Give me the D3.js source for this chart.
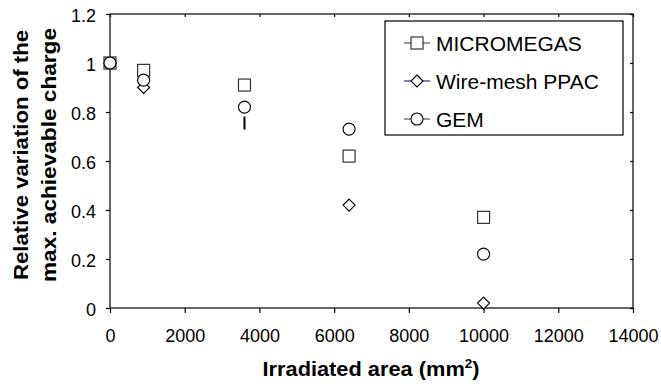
<!DOCTYPE html>
<html>
<head>
<meta charset="utf-8">
<script src="https://cdn.jsdelivr.net/npm/d3@7"></script>
<style>
  body { margin: 0; background: #fff; }
  text { font-family: Arial, "Liberation Sans", sans-serif; }
</style>
</head>
<body>
<div id="chart"></div>
<script>
// data
const area = [0, 900, 3600, 6400, 10000];
const micromegas = [1.0, 0.97, 0.91, 0.62, 0.37];
const ppac = [1.0, 0.90, 0.755, 0.42, 0.02];
const gem = [1.0, 0.93, 0.82, 0.73, 0.22];
const ppacCollapsed = [3600]; // this marker only shows as a short bar
const xTicks = [0, 2000, 4000, 6000, 8000, 10000, 12000, 14000];
const yTicks = [0, 0.2, 0.4, 0.6, 0.8, 1, 1.2];
const seriesNames = ["MICROMEGAS", "Wire-mesh PPAC", "GEM"];

const W = 661, H = 387;
const m = {left: 110, right: 28, top: 14, bottom: 79};

let svg = d3.select("#chart").append("svg")
  .attr("width", W).attr("height", H);

let x = d3.scaleLinear().domain([0, 14000]).range([m.left, W - m.right]);
let y = d3.scaleLinear().domain([0, 1.2]).range([H - m.bottom, m.top]);

// frame
svg.append("rect")
  .attr("x", x(0)).attr("y", y(1.2))
  .attr("width", x(14000) - x(0)).attr("height", y(0) - y(1.2))
  .attr("fill", "none").attr("stroke", "#000").attr("stroke-width", 1.2);

// bottom axis, outward ticks
let xAx = svg.append("g")
  .attr("transform", `translate(0,${y(0)})`)
  .call(d3.axisBottom(x).tickValues(xTicks).tickSize(5).tickSizeOuter(0).tickPadding(16).tickFormat(d3.format("d")));
// left axis
let yAx = svg.append("g")
  .attr("transform", `translate(${x(0)},1.5)`)
  .call(d3.axisLeft(y).tickValues(yTicks).tickSize(4).tickSizeOuter(0).tickPadding(10).tickFormat(d => d === 0 || d === 1 ? d : d3.format(".1f")(d)));
yAx.selectAll(".tick line").attr("transform", "translate(0,-1.5)");
// top/right inward ticks
svg.append("g")
  .attr("transform", `translate(0,${y(1.2)})`)
  .call(d3.axisBottom(x).tickValues(xTicks).tickSize(3).tickSizeOuter(0).tickFormat(""));
svg.append("g")
  .attr("transform", `translate(${x(14000)},0)`)
  .call(d3.axisLeft(y).tickValues(yTicks).tickSize(3).tickSizeOuter(0).tickFormat(""));

svg.selectAll(".domain").remove();
svg.selectAll(".tick line").attr("stroke", "#000").attr("stroke-width", 1.2);
svg.selectAll(".tick text").attr("font-size", 18).attr("fill", "#000")
  .attr("font-family", "Arial, 'Liberation Sans', sans-serif");

// axis titles
let xt = svg.append("text")
  .attr("x", 371).attr("y", 376)
  .attr("text-anchor", "middle")
  .attr("font-size", 19.5).attr("font-weight", "bold")
  .attr("textLength", 217).attr("lengthAdjust", "spacingAndGlyphs");
xt.append("tspan").text("Irradiated area (mm");
xt.append("tspan").attr("font-size", 12).attr("dy", -8).text("2");
xt.append("tspan").attr("dy", 8).text(")");

[["Relative variation of the", 28, 250], ["max. achievable charge", 56, 254]].forEach(([t, px, len]) => {
  svg.append("text")
    .attr("transform", `translate(${px},155) rotate(-90)`)
    .attr("text-anchor", "middle")
    .attr("font-size", 20).attr("font-weight", "bold")
    .attr("textLength", len).attr("lengthAdjust", "spacingAndGlyphs")
    .text(t);
});

// markers
const sq = 12, dm = 6, cr = 6;
function drawSquares(g, vals) {
  g.selectAll("rect.sq").data(vals.map((v, i) => [area[i], v])).enter()
    .append("rect").attr("class", "sq")
    .attr("x", d => x(d[0]) - sq / 2).attr("y", d => y(d[1]) - sq / 2)
    .attr("width", sq).attr("height", sq)
    .attr("fill", "#fff").attr("stroke", "#333").attr("stroke-width", 1.2);
}
function diamondPath(cx, cy) {
  return `M${cx},${cy - dm}L${cx + dm},${cy}L${cx},${cy + dm}L${cx - dm},${cy}Z`;
}

let marks = svg.append("g");
drawSquares(marks, micromegas);

let ppacPts = ppac.map((v, i) => [area[i], v]);
marks.selectAll("path.dm").data(ppacPts.filter(d => !ppacCollapsed.includes(d[0]))).enter()
  .append("path").attr("class", "dm")
  .attr("d", d => diamondPath(x(d[0]), y(d[1])))
  .attr("fill", "#fff").attr("stroke", "#000").attr("stroke-width", 1.1);
marks.selectAll("line.dm").data(ppacPts.filter(d => ppacCollapsed.includes(d[0]))).enter()
  .append("line").attr("class", "dm")
  .attr("x1", d => x(d[0])).attr("x2", d => x(d[0]))
  .attr("y1", d => y(d[1]) - 6.5).attr("y2", d => y(d[1]) + 6.5)
  .attr("stroke", "#000").attr("stroke-width", 2);

marks.selectAll("circle").data(gem.map((v, i) => [area[i], v])).enter()
  .append("circle")
  .attr("cx", d => x(d[0])).attr("cy", d => y(d[1])).attr("r", cr)
  .attr("fill", "#fff").attr("stroke", "#000").attr("stroke-width", 1.1);

// legend
let lg = svg.append("g");
lg.append("rect").attr("x", 385).attr("y", 21).attr("width", 238).attr("height", 114)
  .attr("fill", "#fff").attr("stroke", "#000").attr("stroke-width", 1.2);
const lineCol = ["#333", "#000080", "#333"];
seriesNames.forEach((name, i) => {
  let cy = 43 + i * 38;
  lg.append("line").attr("x1", 404).attr("x2", 430).attr("y1", cy).attr("y2", cy)
    .attr("stroke", lineCol[i]).attr("stroke-width", 1);
  if (i === 0) {
    lg.append("rect").attr("x", 417 - sq / 2).attr("y", cy - sq / 2).attr("width", sq).attr("height", sq)
      .attr("fill", "#fff").attr("stroke", "#333").attr("stroke-width", 1.2);
  } else if (i === 1) {
    lg.append("path").attr("d", diamondPath(417, cy)).attr("fill", "#fff").attr("stroke", "#000").attr("stroke-width", 1.1);
  } else {
    lg.append("circle").attr("cx", 417).attr("cy", cy).attr("r", cr)
      .attr("fill", "#fff").attr("stroke", "#000").attr("stroke-width", 1.1);
  }
  lg.append("text").attr("x", 436).attr("y", cy + 7.5)
    .attr("font-size", 21).text(name);
});
</script>
</body>
</html>
